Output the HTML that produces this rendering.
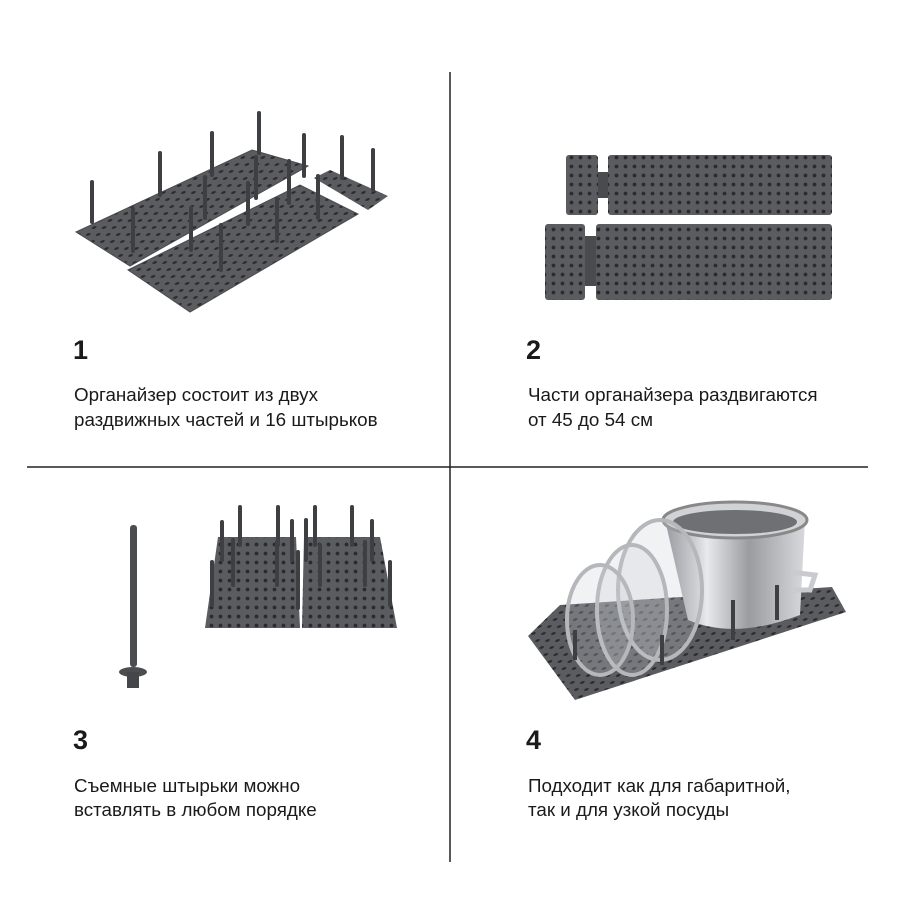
<!DOCTYPE html>
<html><head><meta charset="utf-8"><style>
body{margin:0;background:#fff;}
svg{display:block}
text{font-family:"Liberation Sans",sans-serif;fill:#1a1a1a}
.n{font-size:27px;font-weight:bold}
.t{font-size:18.8px}
</style></head><body>
<svg width="900" height="900" viewBox="0 0 900 900">
<defs>
<pattern id="h" width="9" height="9" patternUnits="userSpaceOnUse"><rect width="9" height="9" fill="#5b5c60"/><circle cx="4.5" cy="4.5" r="1.9" fill="#2b2b2e"/></pattern>
<pattern id="hs" width="10" height="10" patternUnits="userSpaceOnUse" patternTransform="skewX(-40) scale(1,0.7)"><rect width="10" height="10" fill="#5b5c60"/><circle cx="5" cy="5" r="2" fill="#2b2b2e"/></pattern>
<linearGradient id="pot" x1="0" x2="1"><stop offset="0" stop-color="#8a8c90"/><stop offset=".3" stop-color="#e8e9ec"/><stop offset=".6" stop-color="#9a9ca0"/><stop offset="1" stop-color="#d8d9dc"/></linearGradient>
</defs>
<line x1="450" y1="72" x2="450" y2="862" stroke="#222" stroke-width="1.5"/>
<line x1="27" y1="467" x2="868" y2="467" stroke="#222" stroke-width="1.5"/>

<polygon points="76,232 252,150 308,166 130,266" fill="url(#hs)" stroke="#4a4b4f"/>
<polygon points="128,270 300,185 358,214 190,312" fill="url(#hs)" stroke="#4a4b4f"/>
<polygon points="314,178 330,170 388,196 368,210" fill="url(#hs)"/>
<g stroke="#3e3f43" stroke-width="4" stroke-linecap="round">
<line x1="92" y1="182" x2="92" y2="222"/><line x1="160" y1="153" x2="160" y2="195"/><line x1="212" y1="133" x2="212" y2="175"/><line x1="259" y1="113" x2="259" y2="153"/>
<line x1="304" y1="135" x2="304" y2="176"/><line x1="342" y1="137" x2="342" y2="178"/><line x1="373" y1="150" x2="373" y2="190"/>
<line x1="133" y1="209" x2="133" y2="251"/><line x1="205" y1="177" x2="205" y2="218"/><line x1="256" y1="157" x2="256" y2="198"/><line x1="289" y1="161" x2="289" y2="203"/>
<line x1="191" y1="208" x2="191" y2="250"/><line x1="248" y1="183" x2="248" y2="224"/><line x1="318" y1="176" x2="318" y2="218"/>
<line x1="221" y1="225" x2="221" y2="270"/><line x1="277" y1="199" x2="277" y2="241"/>
</g>
<rect x="608" y="155" width="224" height="60" rx="3" fill="url(#h)"/>
<rect x="566" y="155" width="32" height="60" rx="3" fill="url(#h)"/>
<rect x="598" y="172" width="10" height="26" fill="#4a4b4f"/>
<rect x="596" y="224" width="236" height="76" rx="3" fill="url(#h)"/>
<rect x="545" y="224" width="40" height="76" rx="3" fill="url(#h)"/>
<rect x="585" y="236" width="11" height="50" fill="#4a4b4f"/>
<rect x="130" y="525" width="7" height="142" rx="3" fill="#4c4d51"/>
<ellipse cx="133" cy="672" rx="14" ry="5" fill="#4c4d51"/>
<rect x="127" y="672" width="12" height="16" fill="#45464a"/>
<polygon points="218,537 296,537 300,628 205,628" fill="url(#h)"/>
<polygon points="304,537 380,537 397,628 302,628" fill="url(#h)"/>
<g stroke="#3e3f43" stroke-width="4" stroke-linecap="round">
<line x1="222" y1="522" x2="222" y2="560"/><line x1="240" y1="507" x2="240" y2="545"/><line x1="278" y1="507" x2="278" y2="545"/><line x1="292" y1="521" x2="292" y2="560"/>
<line x1="315" y1="507" x2="315" y2="545"/><line x1="352" y1="507" x2="352" y2="545"/><line x1="372" y1="521" x2="372" y2="560"/>
<line x1="212" y1="562" x2="212" y2="605"/><line x1="233" y1="540" x2="233" y2="585"/><line x1="277" y1="542" x2="277" y2="585"/><line x1="298" y1="552" x2="298" y2="608"/>
<line x1="320" y1="545" x2="320" y2="585"/><line x1="365" y1="542" x2="365" y2="585"/><line x1="390" y1="562" x2="390" y2="605"/><line x1="306" y1="520" x2="306" y2="560"/>
</g>
<polygon points="560,605 832,587 846,612 575,700 528,636" fill="url(#hs)"/>
<path d="M665,520 L805,520 L800,615 Q735,640 688,620 Z" fill="url(#pot)"/>
<ellipse cx="735" cy="520" rx="72" ry="18" fill="#d0d2d5" stroke="#888" stroke-width="3"/>
<ellipse cx="735" cy="522" rx="62" ry="12" fill="#6e7074"/>
<path d="M790,572 L815,575 L810,590 L790,590" fill="none" stroke="#c9cbce" stroke-width="5"/>
<ellipse cx="660" cy="590" rx="42" ry="70" fill="rgba(200,205,210,.25)" stroke="#b5b7ba" stroke-width="4"/>
<ellipse cx="632" cy="610" rx="35" ry="65" fill="rgba(200,205,210,.25)" stroke="#b5b7ba" stroke-width="4"/>
<ellipse cx="600" cy="620" rx="33" ry="55" fill="rgba(200,205,210,.25)" stroke="#b5b7ba" stroke-width="4"/>
<g stroke="#3e3f43" stroke-width="4"><line x1="733" y1="600" x2="733" y2="640"/><line x1="777" y1="585" x2="777" y2="620"/><line x1="662" y1="635" x2="662" y2="665"/><line x1="575" y1="630" x2="575" y2="660"/></g>

<text class="n" x="73" y="359">1</text>
<text class="t" x="74" y="401">Органайзер состоит из двух</text>
<text class="t" x="74" y="426">раздвижных частей и 16 штырьков</text>
<text class="n" x="526" y="359">2</text>
<text class="t" x="528" y="401">Части органайзера раздвигаются</text>
<text class="t" x="528" y="426">от 45 до 54 см</text>
<text class="n" x="73" y="749">3</text>
<text class="t" x="74" y="792">Съемные штырьки можно</text>
<text class="t" x="74" y="816">вставлять в любом порядке</text>
<text class="n" x="526" y="749">4</text>
<text class="t" x="528" y="792">Подходит как для габаритной,</text>
<text class="t" x="528" y="816">так и для узкой посуды</text>
</svg>
</body></html>
